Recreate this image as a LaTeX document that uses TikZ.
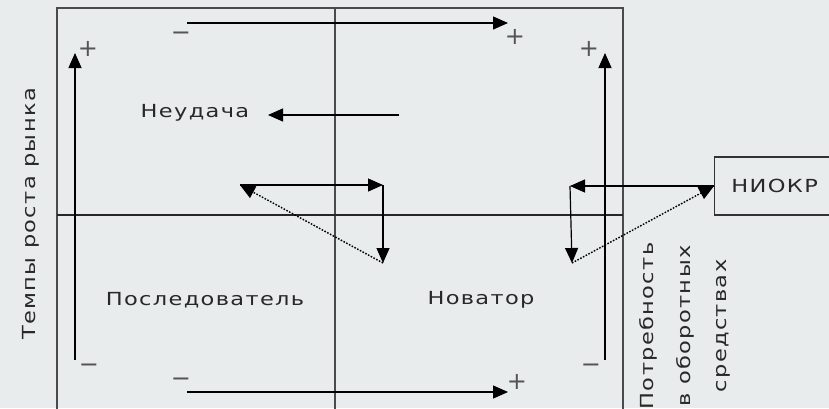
\documentclass[tikz,border=0pt]{standalone}
\usepackage{fontspec}
\setmainfont{DejaVu Sans}[LetterSpace=6]
\newfontfamily\signfont{DejaVu Sans}
\usetikzlibrary{arrows.meta}
\newcommand\widetxt[1]{\scalebox{1.25}[1]{#1}}
\definecolor{bg}{RGB}{233,236,236}
\definecolor{ln}{RGB}{75,75,75}
\definecolor{tx}{RGB}{40,40,40}
\definecolor{sg}{RGB}{85,85,85}
\begin{document}
\begin{tikzpicture}[x=1pt,y=-1pt,
  frame/.style={draw=ln, line width=1.3pt},
  arr/.style={draw=black, line width=1.2pt, -{Triangle[length=15pt,width=13pt]}},
  dotline/.style={draw=black, line width=1.4pt, dash pattern=on 1.6pt off 1.5pt, -{Triangle[length=15pt,width=13pt]}},
  lbl/.style={text=tx, font=\fontsize{18}{22}\selectfont, inner sep=0pt},
  sign/.style={text=sg, font=\signfont\fontsize{24}{24}\selectfont, inner sep=0pt},
]
\useasboundingbox (0,0) rectangle (829,408);
\fill[bg] (0,0) rectangle (829,408);
\clip (0,0) rectangle (829,408);

% frame
\coordinate (F1) at (57,410);
\coordinate (F2) at (57,8);
\coordinate (F3) at (623,8);
\coordinate (F4) at (623,410);
\coordinate (M0) at (335,8);
\coordinate (M1) at (335,410);
\coordinate (H0) at (57,215);
\coordinate (H1) at (623,215);
\draw[frame] (F1) -- (F2) -- (F3) -- (F4);
\draw[frame] (M0) -- (M1);
\draw[frame, draw=black!85] (H0) -- (H1);

% outer arrows
\coordinate (L0) at (75,360);
\coordinate (L1) at (75,53);
\coordinate (R0) at (605,360);
\coordinate (R1) at (605,53);
\coordinate (T0) at (187,23);
\coordinate (T1) at (508,23);
\coordinate (B0) at (187,392);
\coordinate (B1) at (508,392);
\draw[arr] (L0) -- (L1);
\draw[arr] (R0) -- (R1);
\draw[arr] (T0) -- (T1);
\draw[arr] (B0) -- (B1);

% signs
\node[sign] (s1) at (181,36) {−};
\node[sign] (s2) at (88,49) {+};
\node[sign] (s3) at (515,37) {+};
\node[sign] (s4) at (589,49) {+};
\node[sign] (s5) at (89,368) {−};
\node[sign] (s6) at (181,382) {−};
\node[sign] (s7) at (517,382) {+};
\node[sign] (s8) at (591,368) {−};

% labels
\node[lbl] (neud) at (195,113) {\widetxt{Неудача}};
\coordinate (n1) at (399,115);
\coordinate (n2) at (268,115);
\draw[arr] (n1) -- (n2);
\node[lbl] (posl) at (205,300) {\widetxt{Последователь}};
\node[lbl] (novat) at (481,300) {\widetxt{Новатор}};
\node[lbl, rotate=90] (tempy) at (31,214) {\widetxt{Темпы роста рынка}};
\node[lbl, rotate=90, align=center, font=\fontsize{18}{36.5}\selectfont] (potr) at (685,326) {\widetxt{Потребность}\\\widetxt{в оборотных}\\\widetxt{средствах}};

% left triangle
\coordinate (A) at (240,185);
\coordinate (B) at (383,185);
\coordinate (C) at (383,263);
\draw[arr] (A) -- (B);
\draw[arr] (B) -- (C);
\draw[dotline] (C) -- (A);

% NIOKR
\node[draw=black!80, line width=1.3pt, text=tx, font=\fontsize{18}{22}\selectfont, minimum width=120pt, minimum height=58pt, anchor=west, inner sep=0pt] (niokr) at (714,186) {\widetxt{НИОКР}};
\coordinate (D) at (570,186);
\coordinate (E) at (572,263);
\draw[arr] (niokr.west) -- (D);
\draw[arr] (D) -- (E);
\draw[dotline] (E) -- (niokr.west);
\end{tikzpicture}
\end{document}
